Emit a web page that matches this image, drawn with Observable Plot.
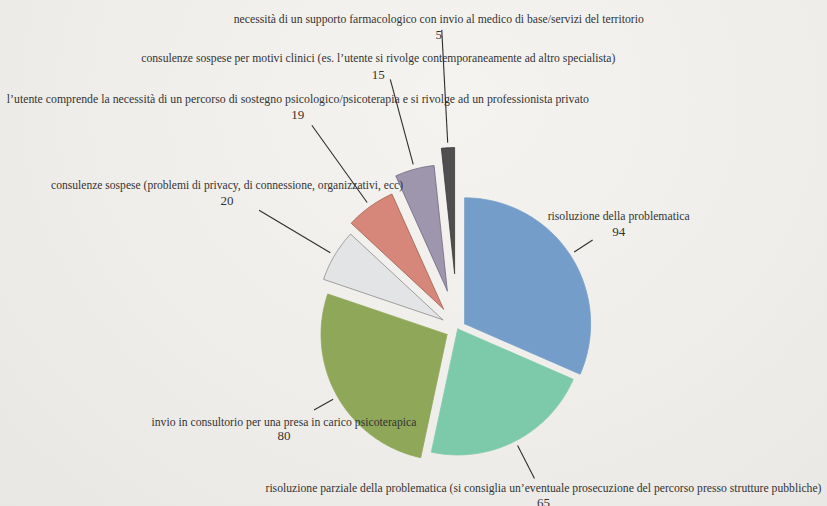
<!DOCTYPE html>
<html><head><meta charset="utf-8">
<script src="https://cdn.jsdelivr.net/npm/d3@7"></script>
<script src="https://cdn.jsdelivr.net/npm/@observablehq/plot@0.6"></script>
<style>
html,body{margin:0;padding:0;}
body{width:827px;height:506px;overflow:hidden;background:radial-gradient(ellipse at 55% 20%, #f5f3ef 0%, #f0eeea 50%, #e8e7e3 100%);}
</style></head><body><div id="chart"></div>
<script>
// ---- data ----
const categories = [
  "risoluzione della problematica",
  "risoluzione parziale della problematica (si consiglia un’eventuale prosecuzione del percorso presso strutture pubbliche)",
  "invio in consultorio per una presa in carico psicoterapica",
  "consulenze sospese (problemi di privacy, di connessione, organizzativi, ecc)",
  "l’utente comprende la necessità di un percorso di sostegno psicologico/psicoterapia e si rivolge ad un professionista privato",
  "consulenze sospese per motivi clinici (es. l’utente si rivolge contemporaneamente ad altro specialista)",
  "necessità di un supporto farmacologico con invio al medico di base/servizi del territorio"
];
const values = [94, 65, 80, 20, 19, 15, 5];

// ---- styles / layout ----
const colors  = ["#749ec9", "#7ccaa9", "#8fa758", "#e3e4e6", "#d6877a", "#9e96ad", "#4f4f4f"];
const strokes = ["#749ec9", "#7ccaa9", "#8fa758", "#8a8a8a", "#a0604f", "#6f6880", "#3a3a3a"];
const W = 827, H = 506, CX = 457, CY = 328, R = 126;       // pixel frame, pie radius
const explodePx  = [8.5, 0.5, 12, 17, 24, 39, 55];
const leaderPx   = [22, 37, 22, 83, 95, 88, 113];
const labelOff   = [[26, -24], [9, 10], [-30, 12], [-32, -25], [-14, -26], [-12, -21], [-3, -11]];
const nameWidth  = [142, 556, 265, 352, 582, 474, 410];
const lineGap = [16, 14, 14, 16, 16, 16, 16];

// ---- geometry from data ----
const arcs = d3.pie().sort(null).value(d => d)(values);
const slices = [], leaders = [], names = [], nums = [];
arcs.forEach((a, i) => {
  const m = (a.startAngle + a.endAngle) / 2;
  const e = explodePx[i] / R;
  const ex = e * Math.sin(m), ey = e * Math.cos(m);
  const pts = [{x: ex, y: ey}];
  const n = Math.max(4, Math.ceil((a.endAngle - a.startAngle) / (Math.PI / 180)));
  for (let k = 0; k <= n; k++) {
    const t = a.startAngle + (a.endAngle - a.startAngle) * k / n;
    pts.push({x: ex + Math.sin(t), y: ey + Math.cos(t)});
  }
  pts.push({x: ex, y: ey});
  slices.push(pts);
  const r1 = 1.04, r2 = 1.04 + leaderPx[i] / R;
  const lx = ex + r2 * Math.sin(m), ly = ey + r2 * Math.cos(m);
  leaders.push({x1: ex + r1 * Math.sin(m), y1: ey + r1 * Math.cos(m), x2: lx, y2: ly});
  const nx = lx + labelOff[i][0] / R, ny = ly - labelOff[i][1] / R;
  names.push({x: nx, y: ny, text: categories[i]});
  nums.push({x: nx, y: ny - lineGap[i] / R, text: String(values[i])});
});

const font = {fontFamily: "Liberation Serif, Times New Roman, serif", fontSize: 12.5, fill: "#333333", textAnchor: "middle", lineAnchor: "middle"};

const plot = Plot.plot({
  width: W, height: H, margin: 0,
  x: {domain: [-CX / R, (W - CX) / R], axis: null},
  y: {domain: [-(H - CY) / R, CY / R], axis: null},
  style: {background: "transparent", overflow: "visible"},
  marks: [
    ...slices.map((pts, i) => Plot.line(pts, {x: "x", y: "y", fill: colors[i], stroke: strokes[i], strokeWidth: 0.8, curve: "linear"})),
    Plot.text(names, {x: "x", y: "y", text: "text", ...font}),
    Plot.text(nums, {x: "x", y: "y", text: "text", ...font, fontSize: 13}),
    Plot.link(leaders, {x1: "x1", y1: "y1", x2: "x2", y2: "y2", stroke: "#2e2e2e", strokeWidth: 1.1})
  ]
});
plot.querySelectorAll("text").forEach(t => {
  const i = categories.indexOf(t.textContent);
  if (i >= 0) {
    t.setAttribute("textLength", nameWidth[i]);
    t.setAttribute("lengthAdjust", "spacingAndGlyphs");
  }
});
document.getElementById("chart").appendChild(plot);
</script></body></html>
